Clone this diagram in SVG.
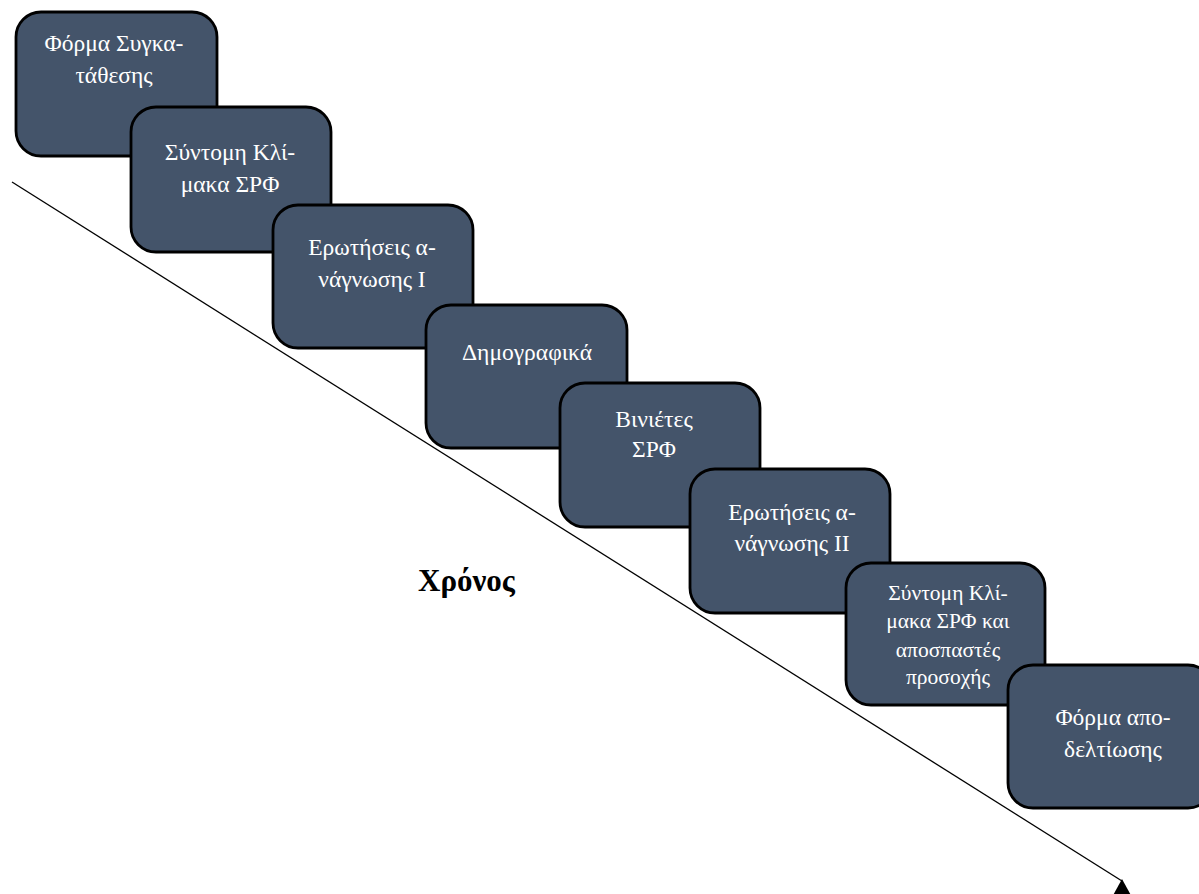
<svg xmlns="http://www.w3.org/2000/svg" width="1199" height="894" viewBox="0 0 1199 894">
<style>
.box{fill:#44546A;stroke:#000;stroke-width:2.8}
.t{fill:#fff;font-family:"Liberation Serif","Times New Roman",serif;font-size:23.5px;text-anchor:middle}
.t2{fill:#fff;font-family:"Liberation Serif","Times New Roman",serif;font-size:21.5px;text-anchor:middle}
.lbl{fill:#000;font-family:"Liberation Serif","Times New Roman",serif;font-size:31px;font-weight:bold}
</style>
<defs>
<marker id="ah" markerUnits="userSpaceOnUse" markerWidth="30" markerHeight="30" refX="15" refY="2" orient="0" overflow="visible">
<path d="M15,0 L4,20 L26,20 Z" fill="#000"/>
</marker>
</defs>
<rect width="1199" height="894" fill="#fff"/>
<g id="connectors">
<line x1="12" y1="182" x2="1122" y2="881" stroke="#000" stroke-width="1.3" marker-end="url(#ah)"/>
</g>
<g id="n1"><rect class="box" x="16" y="12" width="201" height="144" rx="25"/>
<text class="t" x="114" y="51">Φόρμα Συγκα-</text><text class="t" x="114" y="83">τάθεσης</text></g>
<g id="n2"><rect class="box" x="131" y="107" width="200" height="145" rx="25"/>
<text class="t" x="230" y="160">Σύντομη Κλί-</text><text class="t" x="230" y="192">μακα ΣΡΦ</text></g>
<g id="n3"><rect class="box" x="273" y="205" width="200" height="143" rx="25"/>
<text class="t" x="372" y="255">Ερωτήσεις α-</text><text class="t" x="372" y="287">νάγνωσης Ι</text></g>
<g id="n4"><rect class="box" x="426" y="305" width="201" height="143" rx="25"/>
<text class="t" x="527" y="360">Δημογραφικά</text></g>
<g id="n5"><rect class="box" x="560" y="383" width="200" height="144" rx="25"/>
<text class="t" x="654" y="427">Βινιέτες</text><text class="t" x="654" y="457">ΣΡΦ</text></g>
<g id="n6"><rect class="box" x="690" y="469" width="200" height="144" rx="25"/>
<text class="t" x="792" y="520">Ερωτήσεις α-</text><text class="t" x="792" y="551">νάγνωσης ΙΙ</text></g>
<g id="n7"><rect class="box" x="846" y="563" width="199" height="142" rx="25"/>
<text class="t2" x="948" y="600">Σύντομη Κλί-</text><text class="t2" x="948" y="628">μακα ΣΡΦ και</text><text class="t2" x="948" y="657">αποσπαστές</text><text class="t2" x="948" y="684">προσοχής</text></g>
<g id="n8"><rect class="box" x="1008" y="665" width="205" height="143" rx="25"/>
<text class="t" x="1113" y="725">Φόρμα απο-</text><text class="t" x="1113" y="757">δελτίωσης</text></g>
<g id="label"><text class="lbl" x="418" y="591">Χρόνος</text></g>
</svg>
